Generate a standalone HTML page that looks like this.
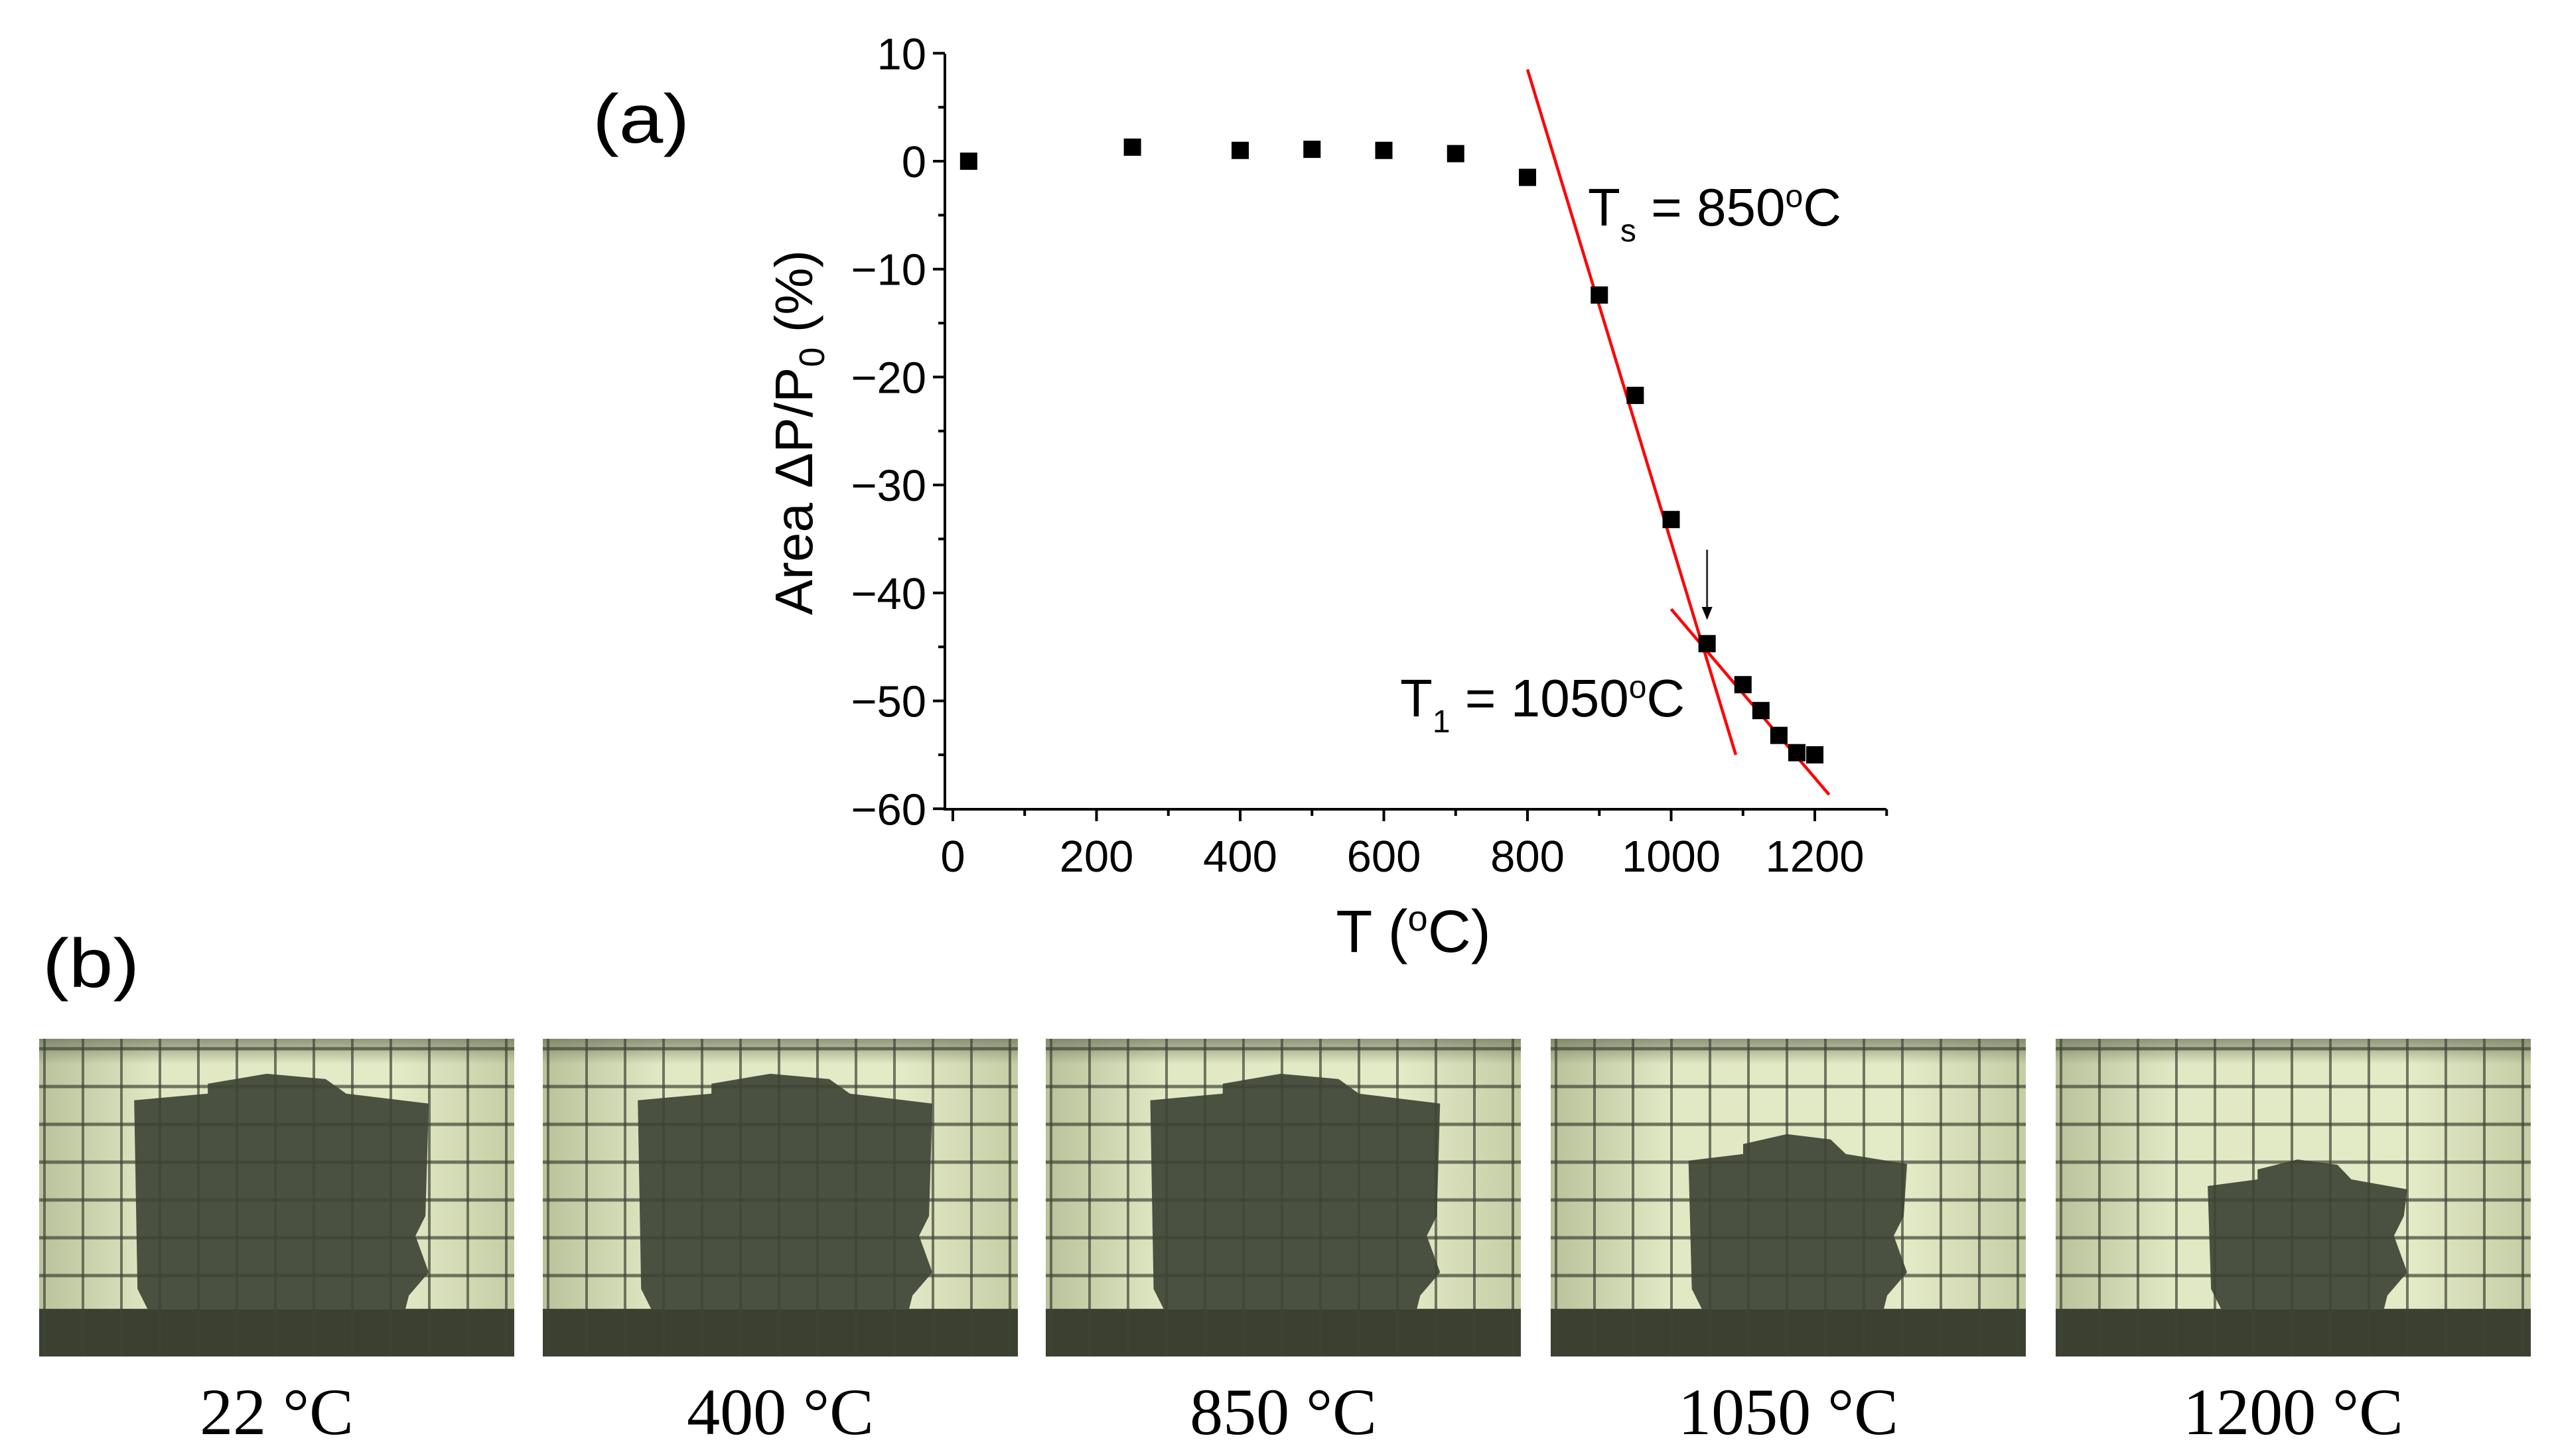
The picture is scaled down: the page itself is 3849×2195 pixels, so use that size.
<!DOCTYPE html>
<html><head><meta charset="utf-8"><style>
html,body{margin:0;padding:0;background:#fff;}
svg{display:block;}
</style></head><body>
<svg id="fig" width="3849" height="2195" viewBox="0 0 3849 2195" xmlns="http://www.w3.org/2000/svg">
<defs>
<linearGradient id="bg" x1="0" y1="0" x2="1" y2="0">
<stop offset="0" stop-color="#b9c29b"/><stop offset="0.25" stop-color="#e1e8c4"/><stop offset="0.75" stop-color="#e3eac6"/><stop offset="1" stop-color="#c5cda6"/>
</linearGradient>
<linearGradient id="bgv" x1="0" y1="0" x2="0" y2="1">
<stop offset="0" stop-color="#5a6048" stop-opacity="0.6"/><stop offset="0.08" stop-color="#5a6048" stop-opacity="0"/>
</linearGradient>
</defs>
<g id="chart"></g>
<g id="photos"></g>
</svg>
<script>
const temps = [22, 250, 400, 500, 600, 700, 800, 900, 950, 1000, 1050, 1100, 1125, 1150, 1175, 1200];
const areaChange = [0, 1.3, 1.0, 1.1, 1.0, 0.7, -1.5, -12.4, -21.7, -33.2, -44.7, -48.5, -50.9, -53.2, -54.8, -55.0];
const fit1 = [[800, 8.5], [1090, -55]];
const fit2 = [[1000, -41.5], [1220, -58.7]];
const xTicks = [0, 200, 400, 600, 800, 1000, 1200];
const yTicks = [10, 0, -10, -20, -30, -40, -50, -60];
const photoLabels = ["22 °C", "400 °C", "850 °C", "1050 °C", "1200 °C"];

const NS = "http://www.w3.org/2000/svg";
function mk(tag, attrs, parent, text) {
  const e = document.createElementNS(NS, tag);
  for (const k in attrs) e.setAttribute(k, attrs[k]);
  if (text !== undefined) e.textContent = text;
  parent.appendChild(e);
  return e;
}
const X0 = 1436, XPER = (2735 - 1436) / 1200;
const Y0 = 243, YPER = (1220 - 81) / 70;
const xs = v => X0 + v * XPER;
const ys = v => Y0 - v * YPER;
const chart = document.getElementById('chart');
const axisLeft = 1424, axisBottom = 1220, axisRight = 2843;
const font = '"Liberation Sans", sans-serif';

let ax = mk('path', {d: `M${axisLeft} 81 V${axisBottom} H${axisRight}`, stroke: '#000', 'stroke-width': 4, fill: 'none'}, chart);



for (let v = 10; v >= -60; v -= 5) {
  const major = v % 10 === 0;
  const t = mk('line', {x1: axisLeft - (major ? 18 : 10), x2: axisLeft, y1: ys(v), y2: ys(v), stroke: '#000', 'stroke-width': 4}, chart);
  
  
}
yTicks.forEach(v => {
  const t = mk('text', {x: axisLeft - 28, y: ys(v) + 24, 'text-anchor': 'end', 'font-family': font, 'font-size': 67}, chart, v < 0 ? '\u2212' + Math.abs(v) : String(v));
  
  
});
for (let v = 0; v <= 1300; v += 100) {
  const major = v % 200 === 0;
  const t = mk('line', {x1: xs(v), x2: xs(v), y1: axisBottom, y2: axisBottom + (major ? 18 : 10), stroke: '#000', 'stroke-width': 4}, chart);
  
  
}
xTicks.forEach(v => {
  const t = mk('text', {x: xs(v), y: axisBottom + 94, 'text-anchor': 'middle', 'font-family': font, 'font-size': 67}, chart, String(v));
  
  
});
let xt = mk('text', {x: 2130, y: 1435, 'text-anchor': 'middle', 'font-family': font, 'font-size': 90}, chart);


xt.innerHTML = 'T (<tspan dy="-32" font-size="54">o</tspan><tspan dy="32">C)</tspan>';
let yt = mk('text', {x: 0, y: 0, 'text-anchor': 'middle', 'font-family': font, 'font-size': 80, transform: 'translate(1224 652) rotate(-90)'}, chart);


yt.innerHTML = 'Area \u0394P/P<tspan dy="18" font-size="54">0</tspan><tspan dy="-18"> (%)</tspan>';
let pa = mk('text', {x: 893, y: 215, 'font-family': font, 'font-size': 104, transform: 'translate(893 215) scale(1.15 1) translate(-893 -215)'}, chart, '(a)');


let pb = mk('text', {x: 64, y: 1488, 'font-family': font, 'font-size': 104, transform: 'translate(64 1488) scale(1.15 1) translate(-64 -1488)'}, chart, '(b)');



[fit1, fit2].forEach((f, i) => {
  const l = mk('line', {x1: xs(f[0][0]), y1: ys(f[0][1]), x2: xs(f[1][0]), y2: ys(f[1][1]), stroke: '#f00', 'stroke-width': 4.5}, chart);
  
  
});
temps.forEach((t, i) => {
  const r = mk('rect', {x: xs(t) - 13, y: ys(areaChange[i]) - 13, width: 26, height: 26, fill: '#000'}, chart);
  
  
});
let arr = mk('g', {}, chart);


mk('line', {x1: xs(1050), x2: xs(1050), y1: ys(-36), y2: ys(-41.5), stroke: '#333', 'stroke-width': 3}, arr);
mk('path', {d: `M${xs(1050) - 8} ${ys(-41.3)} L${xs(1050) + 8} ${ys(-41.3)} L${xs(1050)} ${ys(-42.5)} Z`, fill: '#000'}, arr);
let a1 = mk('text', {x: 2393, y: 340, 'font-family': font, 'font-size': 80}, chart);


a1.innerHTML = 'T<tspan dy="24" font-size="48">s</tspan><tspan dy="-24"> = 850</tspan><tspan dy="-28" font-size="48">o</tspan><tspan dy="28">C</tspan>';
let a2 = mk('text', {x: 2110, y: 1080, 'font-family': font, 'font-size': 80}, chart);


a2.innerHTML = 'T<tspan dy="24" font-size="48">1</tspan><tspan dy="-24"> = 1050</tspan><tspan dy="-28" font-size="48">o</tspan><tspan dy="28">C</tspan>';

const photos = document.getElementById('photos');
const panelX = [59, 818, 1576, 2337, 3098];
const sampleL = [0.2, 0.2, 0.22, 0.29, 0.32];
const sampleR = [0.82, 0.82, 0.83, 0.75, 0.74];
const sampleTop = [0.11, 0.11, 0.11, 0.30, 0.38];
const PW = 716, PH = 479, PY = 1566;
panelX.forEach((px, i) => {
  const g = mk('g', {transform: `translate(${px} ${PY})`}, photos);
  
  
  mk('rect', {x: 0, y: 0, width: PW, height: PH, fill: 'url(#bg)'}, g);
  mk('rect', {x: 0, y: 0, width: PW, height: PH, fill: 'url(#bgv)'}, g);
  const L = sampleL[i] * PW, R = sampleR[i] * PW, T = sampleTop[i] * PH, F = 0.85 * PH;
  const w = R - L;
  const d = `M${L} ${T + 40} L${L + 0.25 * w} ${T + 30} L${L + 0.25 * w} ${T + 15} L${L + 0.45 * w} ${T} L${L + 0.65 * w} ${T + 8} L${L + 0.72 * w} ${T + 30} L${R} ${T + 45} L${R - 5} ${F - 140} L${R - 20} ${F - 110} L${R} ${F - 55} L${R - 30} ${F - 20} L${R - 35} ${F} L${L + 20} ${F} L${L + 5} ${F - 30} Z`;
  mk('path', {d: d, fill: '#4a5140'}, g);
  mk('rect', {x: 0, y: 0.85 * PH, width: PW, height: 0.15 * PH, fill: '#3b4031'}, g);
  for (let gx = 8; gx < PW; gx += 58) mk('line', {x1: gx, x2: gx, y1: 0, y2: PH, stroke: '#3e4434', 'stroke-width': 4, 'stroke-opacity': 0.7}, g);
  for (let gy = 15; gy < 0.85 * PH; gy += 57) mk('line', {x1: 0, x2: PW, y1: gy, y2: gy, stroke: '#3e4434', 'stroke-width': 5, 'stroke-opacity': 0.7}, g);
  const lab = mk('text', {x: px + PW / 2, y: 2162, 'text-anchor': 'middle', 'font-family': '"Liberation Serif", serif', 'font-size': 100}, photos, photoLabels[i]);
  
  
});
</script>
</body></html>
